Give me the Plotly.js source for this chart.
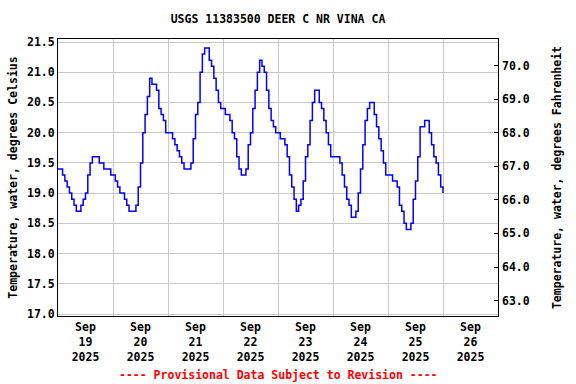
<!DOCTYPE html>
<html>
<head>
<meta charset="utf-8">
<script src="https://cdn.plot.ly/plotly-3.0.1.min.js"></script>
<style>html,body{margin:0;padding:0;background:#fff;}#chart{width:576px;height:384px;}</style>
</head>
<body>
<div id="chart"></div>
<script>
// Day labels (each day's data begins at its midnight, hourly readings)
const days = ['2025-09-19','2025-09-20','2025-09-21','2025-09-22','2025-09-23','2025-09-24','2025-09-25','2025-09-26'];
const tickText = ['Sep<br>19<br>2025','Sep<br>20<br>2025','Sep<br>21<br>2025','Sep<br>22<br>2025','Sep<br>23<br>2025','Sep<br>24<br>2025','Sep<br>25<br>2025','Sep<br>26<br>2025'];

// Hourly water temperature, degrees Celsius
const sep19 = [19.4,19.4,19.3,19.2,19.1,19.0,18.9,18.8,18.7,18.7,18.8,18.9,19.0,19.3,19.5,19.6,19.6,19.6,19.5,19.5,19.4,19.4,19.4,19.3];
const sep20 = [19.3,19.2,19.1,19.0,19.0,18.9,18.8,18.7,18.7,18.7,18.8,19.1,19.5,20.0,20.3,20.6,20.9,20.8,20.8,20.7,20.4,20.3,20.2,20.0];
const sep21 = [20.0,20.0,19.9,19.8,19.7,19.6,19.5,19.4,19.4,19.4,19.5,19.9,20.3,20.5,21.0,21.3,21.4,21.4,21.2,21.1,20.9,20.7,20.5,20.4];
const sep22 = [20.4,20.3,20.3,20.2,20.0,19.9,19.6,19.4,19.3,19.3,19.4,19.8,20.0,20.4,20.7,21.0,21.2,21.1,21.0,20.7,20.4,20.2,20.1,20.0];
const sep23 = [20.0,19.9,19.9,19.8,19.6,19.3,19.1,18.9,18.7,18.8,18.9,19.2,19.6,19.8,20.2,20.5,20.7,20.7,20.5,20.4,20.2,20.0,19.8,19.6];
const sep24 = [19.6,19.6,19.6,19.5,19.3,19.1,18.9,18.8,18.6,18.6,18.7,19.0,19.4,19.8,20.2,20.4,20.5,20.5,20.3,20.1,19.9,19.7,19.5,19.3];
const sep25 = [19.3,19.3,19.2,19.2,19.1,18.8,18.7,18.5,18.4,18.4,18.5,18.9,19.2,19.6,20.1,20.1,20.2,20.2,20.0,19.8,19.6,19.5,19.3,19.1];
const sep26 = [19.0];

const dayData = [sep19, sep20, sep21, sep22, sep23, sep24, sep25, sep26];
const times = [], temps = [];
dayData.forEach((vals, d) => {
  vals.forEach((v, h) => {
    times.push(days[d] + ' ' + String(h).padStart(2,'0') + ':00');
    temps.push(v);
  });
});

const tickVals = days.map(d => d + ' 12:00');
const gridVals = days.slice(1);

const yMin = 16.967, yMax = 21.55;
const c2f = c => c * 1.8 + 32;

const fnt = {family: '"DejaVu Sans Mono", monospace', size: 11.5, color: '#000', weight: 'bold'};

const trace = {
  x: times, y: temps, type: 'scatter', mode: 'lines',
  line: {color: '#0000ff', width: 1.5, shape: 'hv'},
  hoverinfo: 'skip', showlegend: false
};
// Same series in Fahrenheit, invisible, so the right-hand axis is drawn
const traceF = {
  x: times, y: temps.map(c2f), type: 'scatter', mode: 'lines', yaxis: 'y2',
  line: {color: 'rgba(0,0,0,0)', width: 0}, opacity: 0,
  hoverinfo: 'skip', showlegend: false
};

const layout = {
  width: 576, height: 384,
  margin: {l: 58, r: 78, t: 39, b: 68},
  paper_bgcolor: '#fff', plot_bgcolor: '#fff',
  font: fnt,
  title: {text: 'USGS 11383500 DEER C NR VINA CA', font: fnt, x: 0.5, xref: 'paper', y: 1 - 19/384, yref: 'container', yanchor: 'middle'},
  xaxis: {
    type: 'date', range: ['2025-09-19 00:00', '2025-09-27 00:00'],
    tickmode: 'array', tickvals: tickVals, ticktext: tickText,
    showgrid: false, ticks: '', tickfont: fnt,
    minor: {tickmode: 'array', tickvals: gridVals, showgrid: true, gridcolor: '#c8c8c8', gridwidth: 1, ticks: ''},
    showline: true, linecolor: '#000', linewidth: 1, mirror: true, zeroline: false
  },
  yaxis: {
    range: [yMin, yMax], tickmode: 'linear', tick0: 17, dtick: 0.5, tickformat: '.1f',
    showgrid: true, gridcolor: '#c8c8c8', gridwidth: 1, ticks: '', tickfont: fnt,
    showline: true, linecolor: '#000', linewidth: 1, mirror: true, zeroline: false,
    title: {text: 'Temperature, water, degrees Celsius', font: fnt, standoff: 6}
  },
  yaxis2: {
    overlaying: 'y', side: 'right', anchor: 'x',
    range: [c2f(yMin), c2f(yMax)], tickmode: 'linear', tick0: 63, dtick: 1, tickformat: '.1f',
    showgrid: false, ticks: 'inside', ticklen: 4, tickcolor: '#000', tickfont: fnt, zeroline: false,
    ticklabelstandoff: 3,
    title: {text: 'Temperature, water, degrees Fahrenheit', font: fnt, standoff: 24}
  },
  annotations: [{
    text: '---- Provisional Data Subject to Revision ----',
    xref: 'paper', yref: 'paper', x: 0.5, y: -(375 - 316) / 277, yanchor: 'middle', xanchor: 'center',
    showarrow: false, font: Object.assign({}, fnt, {color: '#ff0000'})
  }]
};

Plotly.newPlot('chart', [trace, traceF], layout, {staticPlot: true, displayModeBar: false});
</script>
</body>
</html>
